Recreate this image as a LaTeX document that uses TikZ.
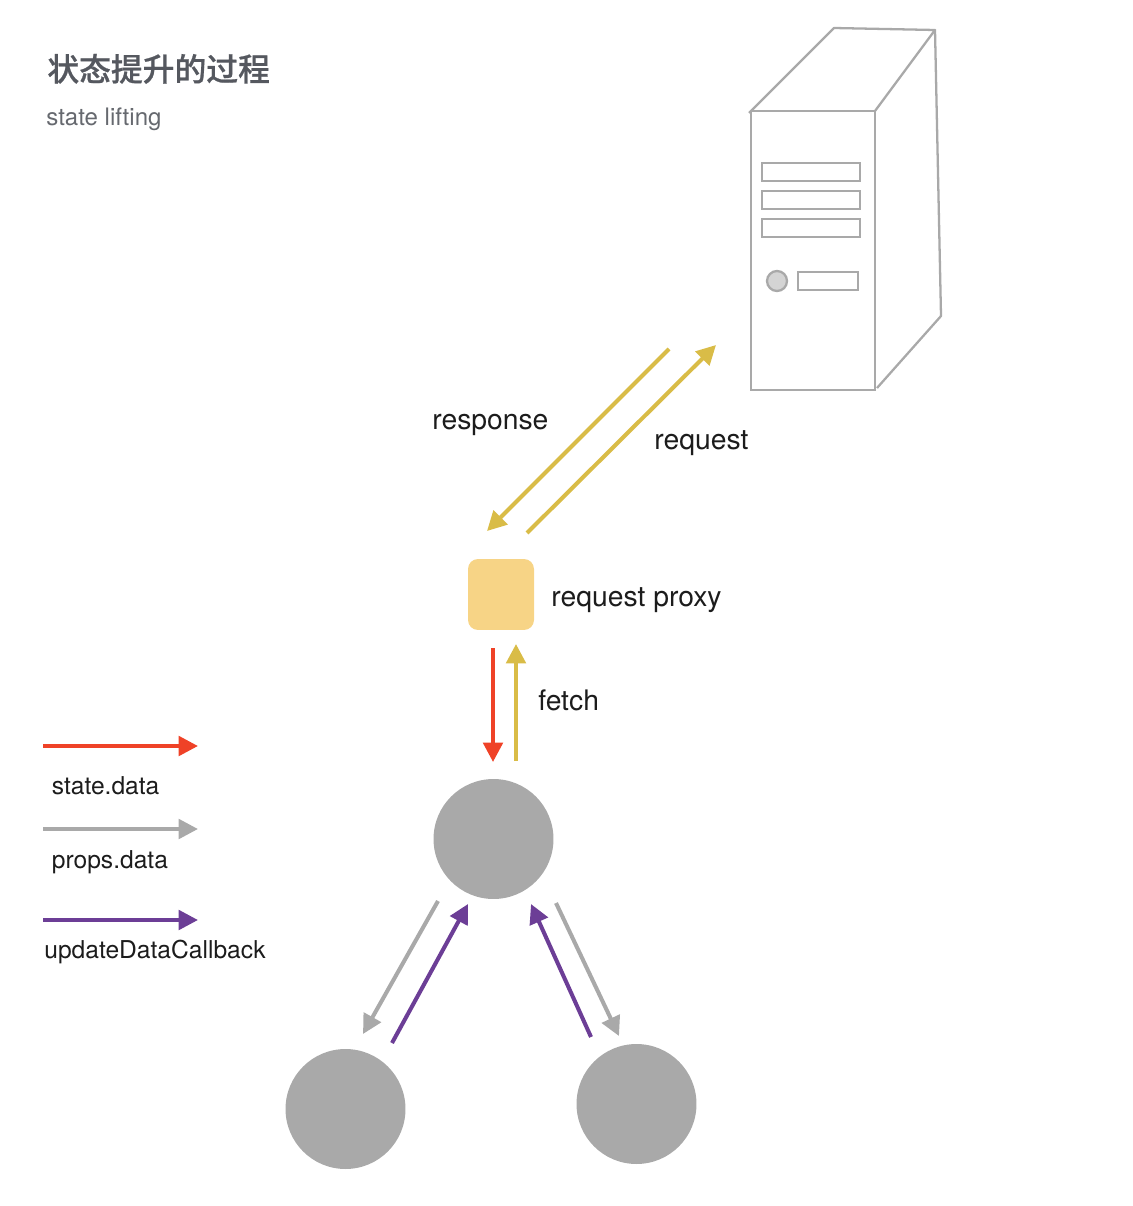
\documentclass[tikz,border=0pt]{standalone}
\usepackage{fontspec}
\setmainfont{TeX Gyre Heros}
\newfontfamily\cjk[FakeBold=0.7]{Noto Sans CJK SC Medium}
\usetikzlibrary{arrows.meta,positioning,calc}
\definecolor{hotred}{HTML}{EF4227}
\definecolor{mustard}{HTML}{D9BC47}
\definecolor{midgray}{HTML}{A9A9A9}
\definecolor{plum}{HTML}{6C3E96}
\definecolor{proxyfill}{HTML}{F7D486}
\definecolor{slate}{HTML}{55585F}
\definecolor{ink}{HTML}{1C1C1C}
\tikzset{
  flow/.style={line width=2.3pt,-{Triangle[length=11pt,width=11pt]}},
  comp/.style={circle,fill=midgray,minimum size=2.4cm,inner sep=0pt},
  label/.style={font=\fontsize{16.1}{18}\selectfont,text=ink,anchor=base west,inner sep=0pt},
  legendlabel/.style={font=\fontsize{14}{16}\selectfont,text=ink,anchor=base west,inner sep=0pt},
  case/.style={draw=midgray,line width=1.3pt},
}
\begin{document}
\begin{tikzpicture}[x=0.02cm,y=-0.02cm]
\useasboundingbox (0,0) rectangle (1132,1206);
% Title
\node[font=\cjk\fontsize{18.1}{20}\selectfont,text=slate,anchor=base west,inner sep=0pt] (title) at (47,81) {状态提升的过程};
\node[font=\fontsize{13.7}{16}\selectfont,text=slate!90,anchor=base west,inner sep=0pt] (subtitle) at (46,126) {state lifting};
% Server
\draw[case] (751,111) rectangle (875,390);
\draw[case,line join=round] (749,113) -- (834,28) -- (935,30) -- (875,111);
\draw[case,line join=round] (935,30) -- (941,316) -- (877,388);
\foreach \y in {163,191,219} {
  \draw[case] (762,\y) rectangle (860,\y+18);
}
\draw[case,fill=black!17] (777,281) circle (10);
\draw[case] (798,272) rectangle (858,290);
% Proxy and components
\node[fill=proxyfill,rounded corners=0.2cm,minimum width=1.32cm,minimum height=1.42cm,inner sep=0pt] (proxy) at (501,594.5) {};
\node[label] (proxylabel) at (551,606) {request proxy};
\node[comp] (parent) at (493.5,839) {};
\node[comp] (childl) at (345.5,1109) {};
\node[comp] (childr) at (636.5,1104) {};
% Free arrow ends
\coordinate (respa) at (669,349);
\coordinate (respb) at (487,531);
\coordinate (reqa) at (527,533);
\coordinate (reqb) at (716,345);
\coordinate (stata) at (493,648);
\coordinate (statb) at (493,762);
\coordinate (fetcha) at (516,761);
\coordinate (fetchb) at (516,644);
\coordinate (pla) at (438,901);
\coordinate (plb) at (363,1034);
\coordinate (cla) at (392,1043);
\coordinate (clb) at (468,904);
\coordinate (cra) at (591,1037);
\coordinate (crb) at (531,904);
\coordinate (pra) at (556,903);
\coordinate (prb) at (619,1036);
% Request and response
\draw[flow,mustard] (respa) -- (respb);
\draw[flow,mustard] (reqa) -- (reqb);
\node[label] (resplabel) at (432,429) {response};
\node[label] (reqlabel) at (654,449) {request};
% Fetch
\draw[flow,hotred] (stata) -- (statb);
\draw[flow,mustard] (fetcha) -- (fetchb);
\node[label] (fetchlabel) at (538,710) {fetch};
% Props down, callback up
\draw[flow,midgray] (pla) -- (plb);
\draw[flow,plum] (cla) -- (clb);
\draw[flow,plum] (cra) -- (crb);
\draw[flow,midgray] (pra) -- (prb);
% Legend
\foreach \y/\c/\tx/\ty/\l in {746/hotred/51.5/794/state.data,829/midgray/51.5/868/props.data,920/plum/44/958/updateDataCallback} {
  \coordinate (lega\y) at (43,\y);
  \coordinate (legb\y) at (198,\y);
  \draw[flow,\c] (lega\y) -- (legb\y);
  \node[legendlabel] (leg\y) at (\tx,\ty) {\l};
}
\end{tikzpicture}
\end{document}
